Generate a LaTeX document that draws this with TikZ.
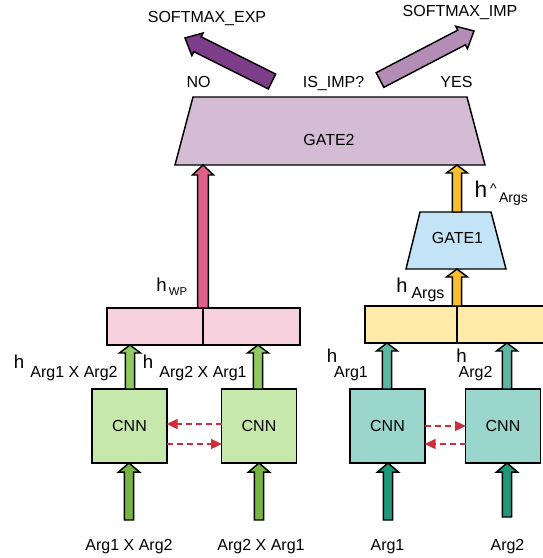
\documentclass[tikz,border=0pt]{standalone}
\usepackage{fontspec}
\setmainfont{Liberation Sans}
\usetikzlibrary{calc,arrows.meta}
\definecolor{gatetwo}{HTML}{D3BCD4}
\definecolor{gateone}{HTML}{C3E3F6}
\definecolor{exparr}{HTML}{7E3D8B}
\definecolor{imparr}{HTML}{B48DB6}
\definecolor{pinkarr}{HTML}{E0608A}
\definecolor{pinkfill}{HTML}{F8D1DE}
\definecolor{greenbox}{HTML}{C6E8AB}
\definecolor{greenup}{HTML}{8FCB5E}
\definecolor{greenin}{HTML}{78B443}
\definecolor{tealbox}{HTML}{9AD6CB}
\definecolor{tealup}{HTML}{5CB8A5}
\definecolor{tealin}{HTML}{1F987C}
\definecolor{yelfill}{HTML}{FEEBA9}
\definecolor{yelarr}{HTML}{FBBF2E}
\definecolor{dashred}{HTML}{D12C3C}
\newcommand\fatarrow[6]{%
  \coordinate (fatail) at (#2);
  \coordinate (fatip) at (#3);
  \coordinate (fahead) at ($(fatip)!#6!(fatail)$);
  \filldraw[fatline,#1] ($(fatail)!#4!90:(fatip)$) -- ($(fahead)!#4!90:(fatip)$)
    -- ($(fahead)!#5!90:(fatip)$) -- (fatip) -- ($(fahead)!#5!-90:(fatip)$)
    -- ($(fahead)!#4!-90:(fatip)$) -- ($(fatail)!#4!-90:(fatip)$) -- cycle;}
\begin{document}
\begin{tikzpicture}[x=0.75pt,y=-0.75pt,
  every node/.style={inner sep=0pt,outer sep=0pt,font=\fontsize{12}{14}\selectfont},
  fatline/.style={draw=black,line width=1.1pt,line join=miter},
  gateshape/.style={draw=black,line width=1.1pt},
  halfbox/.style={draw=black,line width=1.1pt,minimum height=27.75pt},
  cnnbox/.style={draw=black,line width=1.1pt,minimum width=56pt,minimum height=55.5pt},
  lbl/.style={anchor=base},
  hbig/.style={anchor=base,font=\fontsize{14}{16}\selectfont},
  dasharr/.style={draw=dashred,line width=1.2pt,dash pattern=on 4.5pt off 3pt,
     -{Triangle[length=8pt,width=7.5pt]}}
]
\useasboundingbox (0,0) rectangle (543,558);
\clip (0,0) rectangle (543,558);
% GATE2
\coordinate (g2bl) at (175,165);
\coordinate (g2br) at (485,165);
\coordinate (g2tr) at (467,97);
\coordinate (g2tl) at (193,97);
\filldraw[gateshape,fill=gatetwo] (g2bl) -- (g2br) -- (g2tr) -- (g2tl) -- cycle;
\node[lbl] (gate2) at (329,145) {GATE2};
% GATE1
\coordinate (g1bl) at (406,269);
\coordinate (g1br) at (506,269);
\coordinate (g1tr) at (491,212);
\coordinate (g1tl) at (420,212);
\filldraw[gateshape,fill=gateone] (g1bl) -- (g1br) -- (g1tr) -- (g1tl) -- cycle;
\node[lbl] (gate1) at (457.5,243) {GATE1};
% top texts
\node[lbl] (smexp) at (207,22.7) {SOFTMAX\_EXP};
\node[lbl] (smimp) at (460,16) {SOFTMAX\_IMP};
\node[lbl] (no) at (198.5,87) {NO};
\node[lbl] (isimp) at (333.5,87) {IS\_IMP?};
\node[lbl] (yes) at (456.5,87) {YES};
\coordinate (exptail) at (272,81.5);
\coordinate (exptip) at (185,38);
\coordinate (imptail) at (380,80);
\coordinate (imptip) at (474,31);
\fatarrow{fill=exparr}{exptail}{exptip}{6.2pt}{9.5pt}{10.5pt}
\fatarrow{fill=imparr}{imptail}{imptip}{6.2pt}{9.5pt}{10.5pt}
% concat boxes
\node[halfbox,fill=pinkfill,minimum width=72pt] (pinkL) at (155,326.5) {};
\node[halfbox,fill=pinkfill,minimum width=72.75pt] (pinkR) at (251.5,326.5) {};
\node[halfbox,fill=yelfill,minimum width=69pt] (yelL) at (411,324.5) {};
\node[halfbox,fill=yelfill,minimum width=69pt] (yelR) at (503,324.5) {};
% CNN boxes
\node[cnnbox,fill=greenbox] (cnn1) at (129.5,426) {CNN};
\node[cnnbox,fill=greenbox] (cnn2) at (259,426) {CNN};
\node[cnnbox,fill=tealbox] (cnn3) at (387.5,426) {CNN};
\node[cnnbox,fill=tealbox] (cnn4) at (503,426) {CNN};
% inputs
\node[lbl] (a12) at (129,550) {Arg1 X Arg2};
\node[lbl] (a21) at (261,550) {Arg2 X Arg1};
\node[lbl] (a1) at (387.5,550) {Arg1};
\node[lbl] (a2) at (507.5,550) {Arg2};
\coordinate (in1) at (129,520);
\coordinate (in2) at (259,520);
\coordinate (in3) at (388,520);
\coordinate (in4) at (507,517);
\fatarrow{fill=greenin}{in1}{in1 |- cnn1.south}{3.4pt}{7.9pt}{6.8pt}
\fatarrow{fill=greenin}{in2}{in2 |- cnn2.south}{3.4pt}{7.9pt}{6.8pt}
\fatarrow{fill=tealin}{in3}{in3 |- cnn3.south}{3.4pt}{7.9pt}{6.8pt}
\fatarrow{fill=tealin}{in4}{in4 |- cnn4.south}{3.4pt}{7.9pt}{6.8pt}
% CNN outputs
\coordinate (o1) at (130,389);
\coordinate (o2) at (258,389);
\coordinate (o3) at (387,389);
\coordinate (o4) at (507,389);
\fatarrow{fill=greenup}{o1}{o1 |- pinkL.south}{3.4pt}{7.9pt}{6pt}
\fatarrow{fill=greenup}{o2}{o2 |- pinkR.south}{3.4pt}{7.9pt}{6pt}
\fatarrow{fill=tealup}{o3}{o3 |- yelL.south}{3.4pt}{7.9pt}{6pt}
\fatarrow{fill=tealup}{o4}{o4 |- yelR.south}{3.4pt}{7.9pt}{6pt}
% dashed interactions
\draw[dasharr] (cnn2.west |- 0,424) -- (cnn1.east |- 0,424);
\draw[dasharr] (cnn1.east |- 0,444) -- (cnn2.west |- 0,444);
\draw[dasharr] (cnn3.east |- 0,426) -- (cnn4.west |- 0,426);
\draw[dasharr] (cnn4.west |- 0,444) -- (cnn3.east |- 0,444);
% upper arrows
\fatarrow{fill=pinkarr}{pinkL.north east}{pinkL.north east |- g2bl}{4.1pt}{7.9pt}{7.5pt}
\fatarrow{fill=yelarr}{yelL.north east}{yelL.north east |- g1bl}{3.4pt}{7.9pt}{6pt}
\coordinate (g1top) at (457,212);
\fatarrow{fill=yelarr}{g1top}{g1top |- g2bl}{3.4pt}{7.9pt}{6pt}
% h labels
\node[hbig] (h1) at (19,368) {h};
\node[lbl] (h1s) at (74,377) {Arg1 X Arg2};
\node[hbig] (h2) at (148,368) {h};
\node[lbl] (h2s) at (203,377) {Arg2 X Arg1};
\node[hbig] (h3) at (332,362) {h};
\node[lbl] (h3s) at (351,377) {Arg1};
\node[hbig] (h4) at (461.5,362) {h};
\node[lbl] (h4s) at (475.5,377) {Arg2};
\node[hbig] (hw) at (161.5,291) {h};
\node[lbl,font=\fontsize{8.5}{10}\selectfont] (hws) at (178,295) {WP};
\node[hbig,font=\fontsize{15}{17}\selectfont] (ha) at (402,292) {h};
\node[lbl] (has) at (428,298) {Args};
\node[hbig,font=\fontsize{17}{19}\selectfont] (hh) at (481,197) {h};
\node[lbl,font=\fontsize{10.5}{12}\selectfont] (hhc) at (493.5,193) {\textasciicircum};
\node[lbl,font=\fontsize{10.5}{12}\selectfont] (hhs) at (513.5,202) {Args};
\end{tikzpicture}
\end{document}
